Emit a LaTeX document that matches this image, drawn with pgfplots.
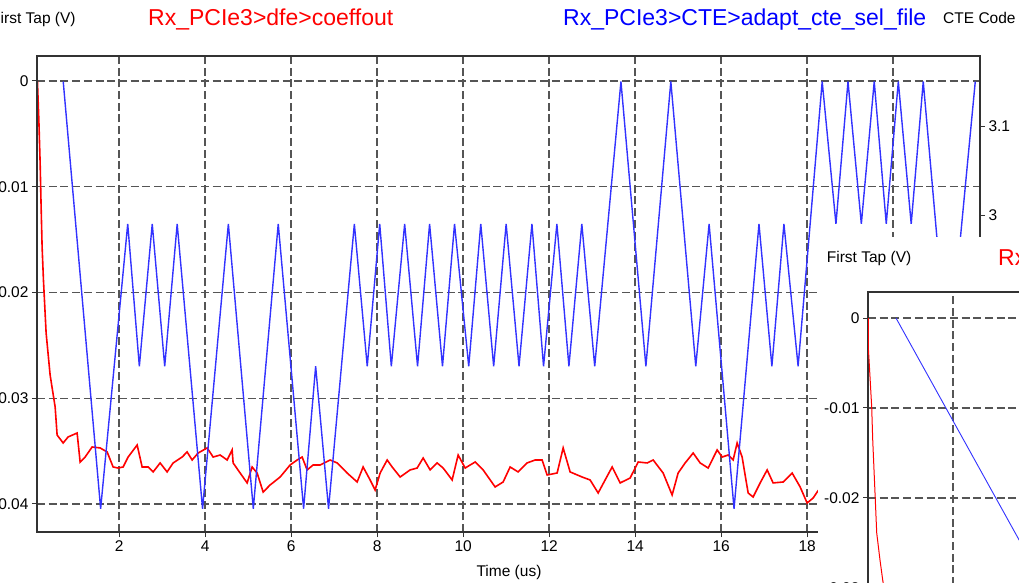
\documentclass[border=0pt]{standalone}
\usepackage{fontspec}
\setmainfont{Liberation Sans}
\usepackage{pgfplots}
\pgfplotsset{compat=1.18}
\definecolor{cred}{RGB}{255,0,0}
\definecolor{cblue}{RGB}{50,50,255}
\definecolor{gridc}{RGB}{85,85,85}
\definecolor{axc}{RGB}{50,50,50}
\newcommand\sm{\fontsize{15.5}{18}\selectfont}
\newcommand\bg{\fontsize{23}{27}\selectfont}
\pgfplotsset{
  common/.style={
    scale only axis,
    axis line style={axc, line width=1.6pt},
    tick style={axc, line width=1pt},
    tick align=outside,
    major tick length=5pt,
    tick label style={font=\sm},
    scaled x ticks=false, scaled y ticks=false,
    /pgf/number format/assume math mode=true,
  },
  gridded/.style={
    grid=major,
    major grid style={dash pattern=on 8pt off 3.7pt, gridc, line width=1.3pt},
  },
}
\begin{document}
\begin{tikzpicture}
\begin{scope}
\clip (0pt,0pt) rectangle (1019pt,582pt);

% main axis (left scale, red)
\begin{axis}[common, gridded, anchor=south west,
  at={(37pt,50pt)}, width=943pt, height=476pt,
  xmin=0.09, xmax=22.02, ymin=-0.04265, ymax=0.002364,
  xtick={2,4,...,20}, xticklabels={2,4,6,8,10,12,14,16,18,20},
  ytick={0,-0.01,-0.02,-0.03,-0.04},
  yticklabels={0,-0.01,-0.02,-0.03,-0.04},
  xtick pos=left, ytick pos=left,
]
\addplot[cred, line width=1.6pt] coordinates {
(0.10,0) (0.133,-0.00369) (0.163,-0.00775) (0.186,-0.01191) (0.209,-0.01570)
(0.240,-0.01882) (0.302,-0.02383) (0.395,-0.02780) (0.512,-0.03083) (0.558,-0.03348)
(0.698,-0.03423) (0.814,-0.03366) (1.023,-0.03329) (1.093,-0.03603) (1.209,-0.03556)
(1.372,-0.03461) (1.558,-0.03470) (1.721,-0.03508) (1.860,-0.03650) (1.977,-0.03660)
(2.093,-0.03650) (2.209,-0.03556) (2.419,-0.03442) (2.535,-0.03650) (2.674,-0.03650)
(2.791,-0.03697) (2.953,-0.03612) (3.116,-0.03697) (3.256,-0.03612) (3.465,-0.03556)
(3.581,-0.03508) (3.698,-0.03584) (3.837,-0.03518) (4.047,-0.03470) (4.186,-0.03556)
(4.349,-0.03537) (4.512,-0.03584) (4.628,-0.03489) (4.651,-0.03612) (4.814,-0.03707)
(4.977,-0.03801) (5.093,-0.03650) (5.209,-0.03707) (5.349,-0.03887) (5.512,-0.03820)
(5.744,-0.03745) (5.977,-0.03631) (6.140,-0.03584) (6.256,-0.03556) (6.372,-0.03678)
(6.512,-0.03631) (6.674,-0.03631) (6.907,-0.03584) (7.070,-0.03612) (7.302,-0.03707)
(7.535,-0.03792) (7.674,-0.03650) (7.837,-0.03773) (7.953,-0.03868) (8.070,-0.03707)
(8.233,-0.03584) (8.349,-0.03650) (8.535,-0.03745) (8.767,-0.03678) (8.930,-0.03660)
(9.070,-0.03565) (9.233,-0.03678) (9.395,-0.03612) (9.535,-0.03660) (9.744,-0.03773)
(9.884,-0.03537) (10.047,-0.03660) (10.279,-0.03603) (10.465,-0.03678) (10.744,-0.03839)
(10.930,-0.03792) (11.093,-0.03650) (11.279,-0.03697) (11.488,-0.03612) (11.674,-0.03584)
(11.837,-0.03584) (11.953,-0.03726) (12.186,-0.03707) (12.326,-0.03470) (12.488,-0.03697)
(12.767,-0.03745) (12.953,-0.03773) (13.140,-0.03896) (13.302,-0.03773) (13.465,-0.03650)
(13.651,-0.03801) (13.884,-0.03754) (14.070,-0.03603) (14.279,-0.03612) (14.419,-0.03584)
(14.651,-0.03707) (14.860,-0.03915) (15.000,-0.03707) (15.163,-0.03612) (15.349,-0.03518)
(15.512,-0.03612) (15.698,-0.03660) (15.907,-0.03489) (16.023,-0.03556) (16.163,-0.03537)
(16.279,-0.03584) (16.372,-0.03423) (16.488,-0.03556) (16.628,-0.03896) (16.744,-0.03934)
(16.907,-0.03801) (17.070,-0.03678) (17.209,-0.03801) (17.442,-0.03792) (17.651,-0.03707)
(17.837,-0.03839) (18.000,-0.03991) (18.140,-0.03943) (18.233,-0.03887) (18.30,-0.0385)
};
\end{axis}

% overlay axis (right scale, blue)
\begin{axis}[common, anchor=south west,
  at={(37pt,50pt)}, width=943pt, height=476pt,
  xmin=0.09, xmax=22.02, ymin=2.6438, ymax=3.1787,
  hide x axis,
  ytick={3,3.1}, yticklabels={3,3.1},
  ytick pos=right, yticklabel pos=right,
]
\addplot[cblue, line width=1.4pt] coordinates {
(0.70,3.15) (1.57,2.67) (2.20,2.99) (2.47,2.83) (2.77,2.99) (3.06,2.83) (3.35,2.99)
(3.94,2.67) (4.54,2.99) (5.12,2.67) (5.70,2.99) (6.29,2.67) (6.57,2.83) (6.87,2.67)
(7.47,2.99) (7.77,2.83) (8.06,2.99) (8.33,2.83) (8.64,2.99) (8.94,2.83) (9.22,2.99)
(9.52,2.83) (9.80,2.99) (10.13,2.83) (10.41,2.99) (10.71,2.83) (11.00,2.99) (11.30,2.83)
(11.60,2.99) (11.87,2.83) (12.18,2.99) (12.46,2.83) (12.76,2.99) (13.06,2.83) (13.67,3.15)
(14.25,2.83) (14.83,3.15) (15.41,2.83) (15.72,2.99) (16.30,2.67) (16.88,2.99) (17.18,2.83)
(17.46,2.99) (17.79,2.83) (18.35,3.15) (18.67,2.99) (18.95,3.15) (19.26,2.99) (19.56,3.15)
(19.84,2.99) (20.12,3.15) (20.42,2.99) (20.70,3.15) (21.28,2.83) (21.91,3.15)
};
\end{axis}

\node[anchor=base west, inner sep=0, font=\sm] at (-9pt,558pt) {First Tap (V)};
\node[anchor=base west, inner sep=0, font=\bg, text=cred] at (148pt,556.5pt) {Rx\_PCIe3>dfe>coeffout};
\node[anchor=base west, inner sep=0, font=\bg, text=blue] at (563pt,556.5pt) {Rx\_PCIe3>CTE>adapt\_cte\_sel\_file};
\node[anchor=base west, inner sep=0, font=\sm] at (943pt,558pt) {CTE Code};
\node[anchor=base, inner sep=0, font=\sm] at (509pt,6pt) {Time (us)};

% overlapping second window
\fill[white] (818pt,-5pt) rectangle (1025pt,345pt);
\begin{axis}[common, gridded, anchor=south west,
  at={(868pt,-120pt)}, width=252pt, height=410pt,
  xmin=0.0233, xmax=5.884, ymin=-0.04267, ymax=0.002889,
  xtick={2,4}, xticklabels={2,4},
  ytick={0,-0.01,-0.02,-0.03,-0.04},
  yticklabels={0,-0.01,-0.02,-0.03,-0.04},
  xtick pos=left, ytick pos=left,
]
\addplot[cred, line width=1pt] coordinates {
(0.030,0) (0.030,-0.00322) (0.070,-0.00656) (0.109,-0.00989) (0.133,-0.01356)
(0.186,-0.01944) (0.226,-0.02389) (0.302,-0.02689) (0.365,-0.02911) (0.442,-0.0313)
};
\addplot[cblue, line width=0.9pt] coordinates {
(0.674,0) (3.79,-0.02684)
};
\end{axis}
\node[anchor=base west, inner sep=0, font=\sm] at (826.7pt,319.6pt) {First Tap (V)};
\node[anchor=base west, inner sep=0, font=\bg, text=cred] at (998pt,316.2pt) {Rx\_PCIe3>dfe>coeffout};
\end{scope}
\pgfresetboundingbox
\useasboundingbox (0pt,0pt) rectangle (1019pt,582pt);
\end{tikzpicture}
\end{document}
